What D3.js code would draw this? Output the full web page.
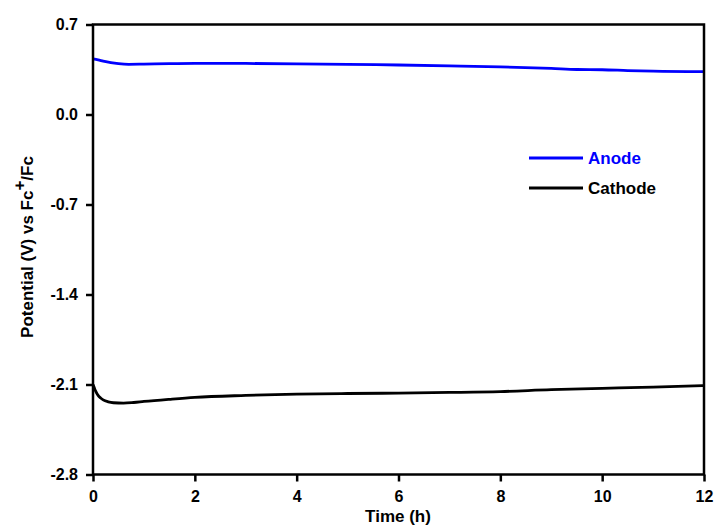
<!DOCTYPE html>
<html><head><meta charset="utf-8">
<script src="https://cdn.jsdelivr.net/npm/d3@7"></script>
<style>body{margin:0;background:#fff;} text{font-family:Arial,"Liberation Sans",sans-serif;font-weight:bold;}</style>
</head><body><svg id="c" width="716" height="528"></svg>
<script>
const anodeTime = [0, 0.1, 0.2, 0.35, 0.5, 0.7, 1, 1.5, 2, 3, 4, 5, 6, 7, 8, 9, 9.5, 10, 10.5, 11, 12];
const anodeVal  = [0.432, 0.425, 0.415, 0.403, 0.395, 0.390, 0.392, 0.396, 0.398, 0.397, 0.394, 0.390, 0.385, 0.378, 0.370, 0.358, 0.350, 0.348, 0.342, 0.337, 0.333];
const cathodeTime = [0, 0.02, 0.05, 0.1, 0.15, 0.2, 0.3, 0.4, 0.6, 0.8, 1, 1.5, 2, 3, 4, 5, 6, 7, 8, 9, 10, 11, 12];
const cathodeVal  = [-2.10, -2.12, -2.15, -2.185, -2.205, -2.22, -2.235, -2.242, -2.245, -2.24, -2.232, -2.215, -2.2, -2.185, -2.175, -2.17, -2.167, -2.162, -2.155, -2.14, -2.13, -2.12, -2.108];
const xTicks = [0, 2, 4, 6, 8, 10, 12];
const yTicks = [0.7, 0.0, -0.7, -1.4, -2.1, -2.8];
const seriesNames = ["Anode", "Cathode"];
const seriesColors = ["#0000ff", "#000000"];

const svg = d3.select("#c");
const L = 93, R = 704, T = 24.5, B = 474.5;
const x = d3.scaleLinear().domain([0, 12]).range([L, R]);
const y = d3.scaleLinear().domain([-2.8, 0.7]).range([B, T]);

// data lines
const line = d3.line().x(d => x(d[0])).y(d => y(d[1])).curve(d3.curveMonotoneX);
const series = [d3.zip(anodeTime, anodeVal), d3.zip(cathodeTime, cathodeVal)];
series.forEach((s, i) => {
  svg.append("path").attr("d", line(s)).attr("fill", "none")
    .attr("stroke", seriesColors[i]).attr("stroke-width", 2.8);
});

// frame
svg.append("rect").attr("x", L).attr("y", T).attr("width", R - L).attr("height", B - T)
  .attr("fill", "none").attr("stroke", "#000").attr("stroke-width", 2.5);

// axes
const fmtY = d => d3.format(".1f")(d).replace("\u2212", "-");
const xAxis = svg.append("g").attr("transform", `translate(0,${B})`)
  .call(d3.axisBottom(x).tickValues(xTicks).tickFormat(d3.format("d")).tickSize(7).tickSizeOuter(0));
const yAxis = svg.append("g").attr("transform", `translate(${L},0)`)
  .call(d3.axisLeft(y).tickValues(yTicks).tickFormat(fmtY).tickSize(7).tickSizeOuter(0));
[xAxis, yAxis].forEach(g => {
  g.select(".domain").remove();
  g.selectAll(".tick line").attr("stroke", "#000").attr("stroke-width", 2.5);
  g.selectAll(".tick text").attr("font-size", 16).attr("fill", "#000")
    .style("font-family", "Arial, 'Liberation Sans', sans-serif").style("font-weight", "bold");
});
xAxis.selectAll(".tick text").attr("y", 12).attr("dy", "0.95em");
yAxis.selectAll(".tick text").attr("x", -15);

// axis titles
svg.append("text").attr("x", 398).attr("y", 522).attr("text-anchor", "middle")
  .attr("font-size", 17).text("Time (h)");
const yt = svg.append("text").attr("transform", `translate(33,247) rotate(-90)`)
  .attr("text-anchor", "middle").attr("font-size", 17);
yt.append("tspan").text("Potential (V) vs Fc");
yt.append("tspan").attr("dy", -8).text("+");
yt.append("tspan").attr("dy", 8).text("/Fc");

// legend
seriesNames.forEach((n, i) => {
  const ly = 158 + i * 30;
  svg.append("line").attr("x1", 529).attr("x2", 583).attr("y1", ly).attr("y2", ly)
    .attr("stroke", seriesColors[i]).attr("stroke-width", 3);
  svg.append("text").attr("x", 588).attr("y", ly + 6).attr("font-size", 17)
    .attr("fill", seriesColors[i]).text(n);
});
</script></body></html>
